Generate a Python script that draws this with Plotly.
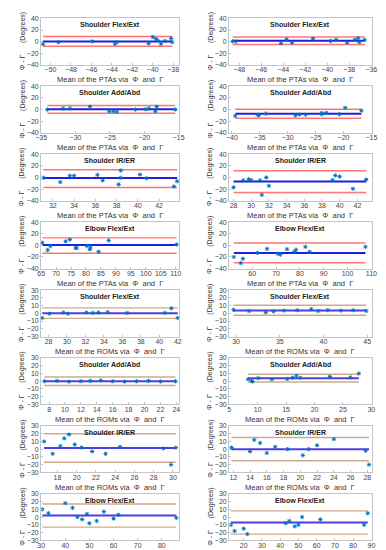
import plotly.graph_objects as go

# ---------------- data ----------------
titles = ["Shoulder Flex/Ext", "Shoulder Add/Abd", "Shoulder IR/ER", "Elbow Flex/Ext"]
xlab_pta = "Mean of the PTAs via  Φ  and  Γ"
xlab_rom = "Mean of the ROMs via  Φ  and  Γ"
ylab = "Φ - Γ      (Degrees)"

# PTA, left column
pta_sfe_L_x = [-50.73, -49.24, -45.9, -43.7, -43.5, -40.4, -40.0, -39.7, -39.5, -39.2, -38.8, -38.2, -38.1]
pta_sfe_L_y = [-4.3, -1, 0.5, -4, -1, -3, 8, 5, 2, -4, 1, 5.5, -1]
pta_saa_L_x = [-34.1, -31.8, -30.8, -27.9, -25.1, -24.5, -24.0, -21.3, -19.8, -19.3, -18.4, -18.2, -15.5]
pta_saa_L_y = [0, 2, 2, 5, -3, -3, -4, 0, 0.5, 2, -3, 5, 0]
pta_sie_L_x = [31.1, 32.7, 33.6, 34.0, 36.2, 36.7, 38.2, 38.4, 38.4, 40.2, 40.8, 43.4, 43.7]
pta_sie_L_y = [-0.5, -8, 3, 3, 4.5, -5, -12, 12, -0.5, 5, -1.5, -15.5, -6.5]
pta_efe_L_x = [65.4, 67.2, 68.1, 73.2, 74.6, 76.5, 76.9, 80.3, 81.3, 81.5, 84.2, 87.6, 110.3]
pta_efe_L_y = [4.5, -8, -1, 7, 10, -4.5, -4.5, -1, -7, -3, -11, 8.5, 1.5]
# PTA, right column
pta_sfe_R_x = [-48.6, -48.3, -44.2, -43.7, -43.2, -41.3, -39.7, -39.2, -38.2, -37.5, -37.2, -37.1, -36.6]
pta_sfe_R_y = [0.5, 0, -3, 4, -2, 5, 1, 3, -2, 3, 6, -1, 3]
pta_saa_R_x = [-39.4, -35.4, -35.2, -33.9, -28.6, -27.9, -26.8, -23.9, -23.9, -23.1, -20.7, -19.7, -16.8]
pta_saa_R_y = [-11, -9, -10, -7, -10, -8.5, -9, -6, -8, -5.5, -8, 3, -2]
pta_sie_R_x = [28.0, 29.1, 29.7, 30.0, 31.0, 31.2, 31.7, 32.0, 39.2, 39.5, 40.0, 41.5, 43.0]
pta_sie_R_y = [-17, -5, -3, -4.5, -5, -30, 0, -14.5, -4.5, 3.5, 1.5, -19.5, -3.5]
pta_efe_R_x = [52.3, 55.2, 56.1, 62.2, 66.2, 70.7, 71.8, 74.6, 77.6, 78.4, 82.3, 84.1, 107.5]
pta_efe_R_y = [-20, -30.5, -23, -13, -6, -14.5, -16, -6.5, -11, -7.5, -2.5, -11, -2.5]

# ROM, left column
rom_sfe_L_x = [27.3, 28.1, 29.6, 30.1, 32.1, 32.8, 33.4, 34.4, 36.5, 40.6, 41.3, 42.0]
rom_sfe_L_y = [-6, -0.5, 1, -0.5, 1, 0.5, 1, 1.5, 0.5, 0.5, 6.5, -6]
rom_saa_L_x = [7.4, 9.0, 10.5, 12.0, 13.2, 14.5, 16.0, 17.5, 19.0, 20.5, 22.0, 23.9]
rom_saa_L_y = [0, 0.5, -0.5, 0, 0.5, 1, 0, -0.5, 0, 0.5, -0.3, 0]
rom_sie_L_x = [16.6, 17.5, 18.3, 18.7, 19.2, 19.8, 20.5, 21.6, 23.0, 24.5, 29.0, 29.8, 30.3]
rom_sie_L_y = [10, -6, 4, 14, 19, 6, 2, -3, -6, 3, 1, -20, 2]
rom_efe_L_x = [30.5, 33.0, 40.0, 43.0, 45.0, 47.0, 49.0, 50.0, 53.0, 56.0, 60.0, 62.0, 86.0]
rom_efe_L_y = [10, 5, 18, 12, 0, -3, 4, -8, -5, 7, -2, 3, -1]
# ROM, right column
rom_sfe_R_x = [29.7, 31.5, 33.4, 34.3, 35.5, 37.0, 38.6, 39.4, 40.5, 42.0, 43.4, 44.9]
rom_sfe_R_y = [4.5, 3, 1.3, 2.6, 3.5, 4, 5.5, 3, 4, 3.5, 4, 3]
rom_saa_R_x = [8.3, 8.9, 9.1, 10.1, 12.5, 15.2, 16.1, 16.8, 17.5, 22.7, 26.3, 27.8]
rom_saa_R_y = [2.5, 0.5, -0.5, 4, 2.5, 3, 4.5, 7, 4.5, 6, 5, 10]
rom_sie_R_x = [11.8, 14.0, 14.5, 15.2, 16.0, 17.0, 18.5, 20.3, 21.0, 22.0, 24.0, 27.8, 28.2]
rom_sie_R_y = [2, -3, 12, 8, -5, 3, 0, -8, 0, 5, 13, -2, -20]
rom_efe_R_x = [13.0, 15.0, 20.0, 22.0, 43.0, 45.0, 48.0, 50.0, 52.0, 62.0, 86.0, 88.0]
rom_efe_R_y = [-10, -18, -15, -22, -8, -5, -12, -10, 0, -3, -10, 5]

# bias and limits of agreement, per panel (row-major: left, right)
bias = [0.4, 1.5, 0.3, -7.3, -1.0, -7.0, 0.5, -13.0,
        0.2, 3.5, 0.0, 4.0, 1.5, 0.0, 2.0, -7.0]
loa_hi = [8.9, 8.0, 7.0, 0.5, 13.4, 11.5, 13.0, 4.0,
          7.0, 10.5, 5.5, 9.0, 20.0, 15.0, 17.0, 8.0]
loa_lo = [-8.1, -5.0, -6.5, -15.0, -17.3, -26.0, -13.5, -30.0,
          -6.5, -2.5, -5.5, -1.0, -17.0, -15.0, -13.0, -22.0]

# x-axis limits as they appear in the reference
x_range = [(-50.92, -37.46), (-48.92, -35.98),
           (-35.0, -15.0), (-40.5, -14.98),
           (30.9, 43.85), (27.5, 43.6),
           (65.0, 111.0), (50.3, 110.05),
           (27.2, 42.1), (29.2, 45.5),
           (7.0, 24.3), (4.97, 30.03),
           (16.3, 30.6), (11.5, 28.5),
           (30.0, 87.0), (12.0, 90.05)]
x_dtick = [2, 2, 5, 5, 2, 2, 5, 10, 2, 5, 2, 5, 2, 2, 10, 10]

panels = [
    (pta_sfe_L_x, pta_sfe_L_y), (pta_sfe_R_x, pta_sfe_R_y),
    (pta_saa_L_x, pta_saa_L_y), (pta_saa_R_x, pta_saa_R_y),
    (pta_sie_L_x, pta_sie_L_y), (pta_sie_R_x, pta_sie_R_y),
    (pta_efe_L_x, pta_efe_L_y), (pta_efe_R_x, pta_efe_R_y),
    (rom_sfe_L_x, rom_sfe_L_y), (rom_sfe_R_x, rom_sfe_R_y),
    (rom_saa_L_x, rom_saa_L_y), (rom_saa_R_x, rom_saa_R_y),
    (rom_sie_L_x, rom_sie_L_y), (rom_sie_R_x, rom_sie_R_y),
    (rom_efe_L_x, rom_efe_L_y), (rom_efe_R_x, rom_efe_R_y),
]

# ---------------- layout ----------------
W, H = 386, 550
FONT = "Liberation Sans, Arial, sans-serif"
col_px = [(28, 170), (222, 369)]
top0, pitch, ph = 6.5, 68.8, 47.0

fig = go.Figure()
annotations = []
layout_axes = {}

for i, (xs, ys) in enumerate(panels):
    r, c = divmod(i, 2)
    n = i + 1
    xa = "x" if n == 1 else f"x{n}"
    ya = "y" if n == 1 else f"y{n}"
    xkey = "xaxis" if n == 1 else f"xaxis{n}"
    ykey = "yaxis" if n == 1 else f"yaxis{n}"
    pta = r < 4
    x0, x1 = min(xs), max(xs)
    top = top0 + r * pitch
    bot = top + ph
    xl, xr = col_px[c]

    mean_col = "#1f1fe0" if pta else "#4b3fe3"
    loa_col = "rgba(255,70,70,0.75)" if pta else "rgba(200,160,130,0.9)"

    for v, colr, wdt in [(loa_hi[i], loa_col, 1.4), (loa_lo[i], loa_col, 1.4), (bias[i], mean_col, 2.0)]:
        fig.add_trace(go.Scatter(x=[x0, x1], y=[v, v], mode="lines",
                                 line=dict(color=colr, width=wdt),
                                 xaxis=xa, yaxis=ya, showlegend=False, hoverinfo="skip"))
    fig.add_trace(go.Scatter(x=xs, y=ys, mode="markers", cliponaxis=False,
                             marker=dict(symbol="asterisk-open", size=3.5, color="#0072BD",
                                         line=dict(color="#0072BD", width=1)),
                             xaxis=xa, yaxis=ya, showlegend=False))

    yr = 40 if pta else 30
    ydt = 20 if pta else 10
    common = dict(showgrid=False, zeroline=False, showline=True, mirror=True,
                  linecolor="#c4c4c4", linewidth=1, ticks="inside", ticklen=2,
                  tickcolor="#c4c4c4", tickfont=dict(size=7, color="#444", family=FONT))
    layout_axes[xkey] = dict(domain=[xl / W, xr / W], anchor=ya,
                             range=list(x_range[i]),
                             dtick=x_dtick[i], tick0=0, ticklabelstandoff=-2,
                             ticklabeloverflow="allow", **common)
    layout_axes[ykey] = dict(domain=[1 - bot / H, 1 - top / H], anchor=xa,
                             range=[-yr, yr], dtick=ydt, tick0=0, **common)
    # panel title
    annotations.append(dict(text="<b>" + titles[r % 4] + "</b>", x=(xl + xr) / 2 / W,
                            y=1 - (top + 6.5) / H, xref="paper", yref="paper",
                            showarrow=False, xanchor="center", yanchor="middle",
                            font=dict(size=7, color="#222", family=FONT)))
    # x-axis label
    if r < 7:
        annotations.append(dict(text=xlab_pta if pta else xlab_rom, x=(xl + xr) / 2 / W,
                                y=1 - (bot + 15) / H, xref="paper", yref="paper",
                                showarrow=False, xanchor="center", yanchor="middle",
                                font=dict(size=7.5, color="#333", family=FONT)))
    # y-axis label
    annotations.append(dict(text=ylab, x=(xl - 19) / W, y=1 - (top + ph / 2) / H,
                            xref="paper", yref="paper", textangle=-90,
                            showarrow=False, xanchor="center", yanchor="middle",
                            font=dict(size=7, color="#333", family=FONT)))

fig.update_layout(width=W, height=H, margin=dict(l=0, r=0, t=0, b=0),
                  plot_bgcolor="white", paper_bgcolor="white",
                  annotations=annotations, **layout_axes)

fig.write_html("out.html")
